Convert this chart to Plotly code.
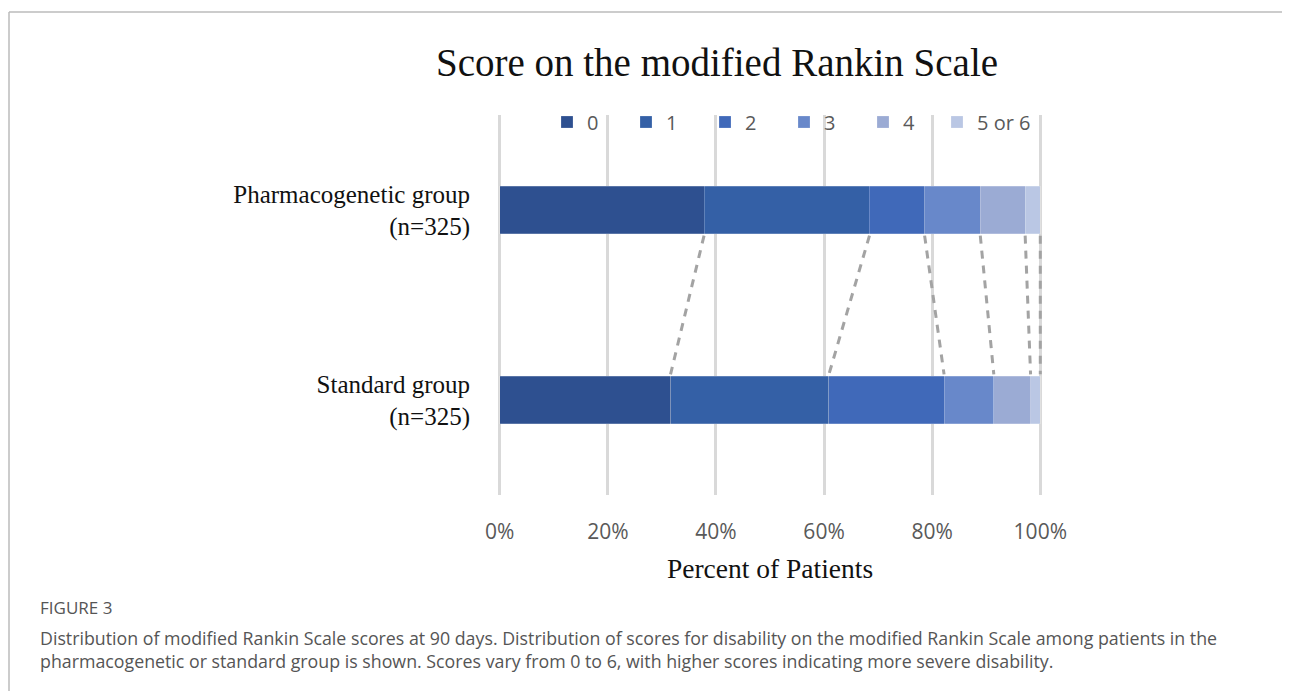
import plotly.graph_objects as go

groups = ["Standard group<br>(n=325)", "Pharmacogenetic group<br>(n=325)"]
scores = ["0", "1", "2", "3", "4", "5 or 6"]
standard = [31.6, 29.3, 21.3, 9.2, 6.8, 1.8]
pharmaco = [37.8, 30.6, 10.2, 10.3, 8.3, 2.8]
colors = ["#2E5090", "#3460A6", "#4069B9", "#6888CA", "#9BABD4", "#BAC7E4"]
x_ticks = [0, 20, 40, 60, 80, 100]
x_tick_text = ["0%", "20%", "40%", "60%", "80%", "100%"]

y_pos = [0, 1]
bar_w = 0.25

# page body has an 8px offset; figure coords = screen - 8
L, R, T, B = 489, 255, 107, 204
W, H = 1290, 691
PW = W - L - R
PH = H - T - B


def px(xs):  # screen x -> paper x
    return (xs - 8 - L) / PW


def py(ys):  # screen y -> paper y
    return 1 - (ys - 8 - T) / PH


fig = go.Figure()
for i, s in enumerate(scores):
    fig.add_trace(go.Bar(
        x=[standard[i], pharmaco[i]], y=y_pos, orientation="h", name=s,
        marker=dict(color=colors[i], line=dict(width=0.6, color="rgba(255,255,255,0.35)")),
        width=bar_w,
        legend="legend2" if i == len(scores) - 1 else "legend",
    ))

# dashed connectors between cumulative boundaries
cum_s, cum_p = 0, 0
for i in range(len(scores)):
    cum_s += standard[i]
    cum_p += pharmaco[i]
    fig.add_trace(go.Scatter(
        x=[cum_p, cum_s], y=[1 - bar_w / 2 - 0.01, bar_w / 2 + 0.01], mode="lines",
        line=dict(color="#A3A3A3", width=3, dash="8px,7px"),
        showlegend=False, hoverinfo="skip",
    ))

serif = "Liberation Serif, Times New Roman, serif"
sans = "Open Sans, sans-serif"

legend_common = dict(orientation="h", xanchor="left", y=py(122), yanchor="middle",
                     bgcolor="rgba(0,0,0,0)", font=dict(family=sans, size=20, color="#595959"),
                     traceorder="normal", itemwidth=30)

fig.update_layout(
    barmode="stack",
    width=W, height=H,
    paper_bgcolor="white", plot_bgcolor="white",
    margin=dict(l=L, r=R, t=T, b=B),
    title=dict(text="Score on the modified Rankin Scale", x=709 / W, xanchor="center",
               y=1 - 54 / H, yanchor="middle",
               font=dict(family=serif, size=39, color="#111")),
    legend=dict(x=px(547), entrywidth=34, entrywidthmode="pixels", **legend_common),
    legend2=dict(x=px(547 + 5 * 78), **legend_common),
    showlegend=True,
    xaxis=dict(range=[-0.5, 100.5], tickvals=x_ticks, ticktext=x_tick_text,
               showgrid=True, gridcolor="#D9D9D9", gridwidth=2.5,
               zeroline=False, showline=False,
               tickfont=dict(family=sans, size=21, color="#595959"),
               ticklabelstandoff=22,
               title=dict(text="Percent of Patients", standoff=14,
                          font=dict(family=serif, size=27.5, color="#111"))),
    yaxis=dict(range=[-0.5, 1.5], tickvals=y_pos, ticktext=groups, showgrid=False,
               zeroline=False, showline=False,
               tickfont=dict(family=serif, size=25, color="#111"),
               ticklabelstandoff=26),
)

# figure frame lines
fig.add_shape(type="line", xref="paper", yref="paper", x0=px(9), x1=px(1300),
              y0=py(12), y1=py(12), line=dict(color="#BBBBBB", width=1.5))
fig.add_shape(type="line", xref="paper", yref="paper", x0=px(9), x1=px(9),
              y0=py(12), y1=py(720), line=dict(color="#BBBBBB", width=1.5))

# caption
fig.add_annotation(text="FIGURE 3", xref="paper", yref="paper", x=px(38), xanchor="left",
                   y=py(607), yanchor="middle", showarrow=False,
                   font=dict(family=sans, size=17, color="#555555"))
fig.add_annotation(text="Distribution of modified Rankin Scale scores at 90 days. Distribution of scores for disability on the modified Rankin Scale among patients in the<br>pharmacogenetic or standard group is shown. Scores vary from 0 to 6, with higher scores indicating more severe disability.",
                   xref="paper", yref="paper", x=px(38), xanchor="left", align="left",
                   y=py(649), yanchor="middle", showarrow=False,
                   font=dict(family=sans, size=17.8, color="#555555"))

fig.write_html("out.html")
